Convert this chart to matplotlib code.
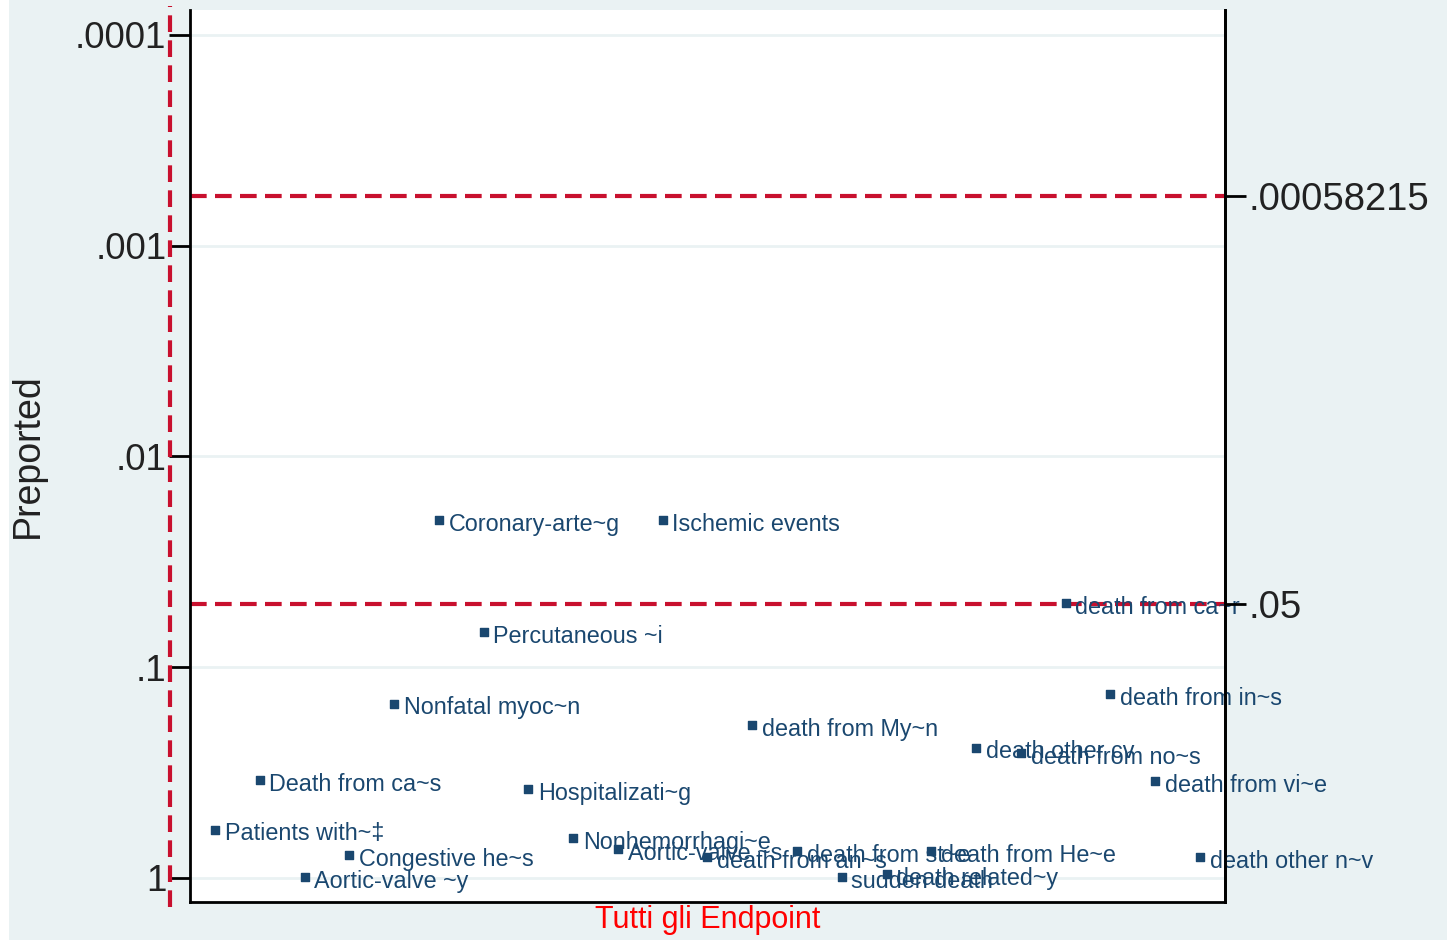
#! /usr/bin/env python3

import matplotlib
matplotlib.use("Agg")
import matplotlib.pyplot as plt
from matplotlib.patches import Rectangle
from matplotlib.ticker import FixedLocator, NullLocator

plt.rcParams["font.family"] = ["Liberation Sans", "DejaVu Sans"]

# endpoints, in plotting order along the x axis
labels = ["Patients with~‡", "Death from ca~s", "Aortic-valve ~y", "Congestive he~s",
          "Nonfatal myoc~n", "Coronary-arte~g", "Percutaneous ~i", "Hospitalizati~g",
          "Nonhemorrhagi~e", "Aortic-valve ~s", "Ischemic events", "death from an~s",
          "death from My~n", "death from st~e", "sudden death", "death related~y",
          "death from He~e", "death other cv", "death from no~s", "death from ca~r",
          "death from in~s", "death from vi~e", "death other n~v"]
endpoint = list(range(1, len(labels) + 1))
p_reported = [0.59, 0.343, 0.99, 0.78, 0.149, 0.020, 0.068, 0.38, 0.645, 0.73,
              0.020, 0.794, 0.188, 0.745, 0.99, 0.957, 0.745, 0.241, 0.255,
              0.0495, 0.134, 0.347, 0.794]

# reference lines
p_thresholds = [0.00058215, 0.05]
left_ticks = [0.0001, 0.001, 0.01, 0.1, 1]
left_ticklabels = [".0001", ".001", ".01", ".1", "1"]
right_ticklabels = [".00058215", ".05"]

bg = "#eaf2f3"
navy = "#1a476f"
red = "#c8102e"

fig = plt.figure(figsize=(14.54, 9.41), dpi=100, facecolor="white")
fig.patches.append(Rectangle((9 / 1454, 1 - 940 / 941), (1447 - 9) / 1454, 940 / 941,
                             transform=fig.transFigure, facecolor=bg, edgecolor="none", zorder=-5))

ax = fig.add_axes([190 / 1454, 1 - 902 / 941, (1225 - 190) / 1454, (902 - 10) / 941])
ax.set_facecolor("white")
ax.set_yscale("log")
ax.set_ylim(1.3, 7.61e-5)
ax.set_xlim(0.4416, 23.56)

ax.yaxis.set_major_locator(FixedLocator(left_ticks))
ax.set_yticklabels(left_ticklabels)
ax.yaxis.set_minor_locator(NullLocator())
ax.set_xticks([])
ax.tick_params(axis="y", length=15, width=2, pad=2, labelsize=26.5, labelcolor="#222222")
ax.grid(axis="y", color=bg, linewidth=2)
ax.set_axisbelow(True)

for side in ["left", "bottom", "right"]:
    ax.spines[side].set_linewidth(2)
    ax.spines[side].set_color("black")
ax.spines["top"].set_visible(False)

for t in p_thresholds:
    ax.axhline(t, color=red, linewidth=3, linestyle=(0, (4, 2)), zorder=2)
ax.axvline(0, ymin=-0.006, ymax=1.004, color=red, linewidth=3, linestyle=(0, (4, 2)), clip_on=False)

ax.scatter(endpoint, p_reported, marker="s", s=26, color=navy, zorder=3, clip_on=False)
for x, y, name in zip(endpoint, p_reported, labels):
    ax.annotate(name, (x, y), xytext=(7, -3), textcoords="offset points",
                ha="left", va="center", fontsize=16.8, color=navy, zorder=4)

ax.set_ylabel("Preported", fontsize=27, color="#222222")
ax.yaxis.set_label_coords(-0.139, 0.5)
ax.set_xlabel("Tutti gli Endpoint", fontsize=22, color="#ff0000", labelpad=2)

ax2 = ax.twinx()
ax2.set_yscale("log")
ax2.set_ylim(ax.get_ylim())
ax2.yaxis.set_major_locator(FixedLocator(p_thresholds))
ax2.set_yticklabels(right_ticklabels)
ax2.yaxis.set_minor_locator(NullLocator())
ax2.tick_params(axis="y", length=15, width=2, pad=2, labelsize=27.5, labelcolor="#222222")
for side in ["top", "left", "bottom"]:
    ax2.spines[side].set_visible(False)
ax2.spines["right"].set_linewidth(2)

plt.savefig("out.png", dpi=100, facecolor=fig.get_facecolor())
plt.close()
